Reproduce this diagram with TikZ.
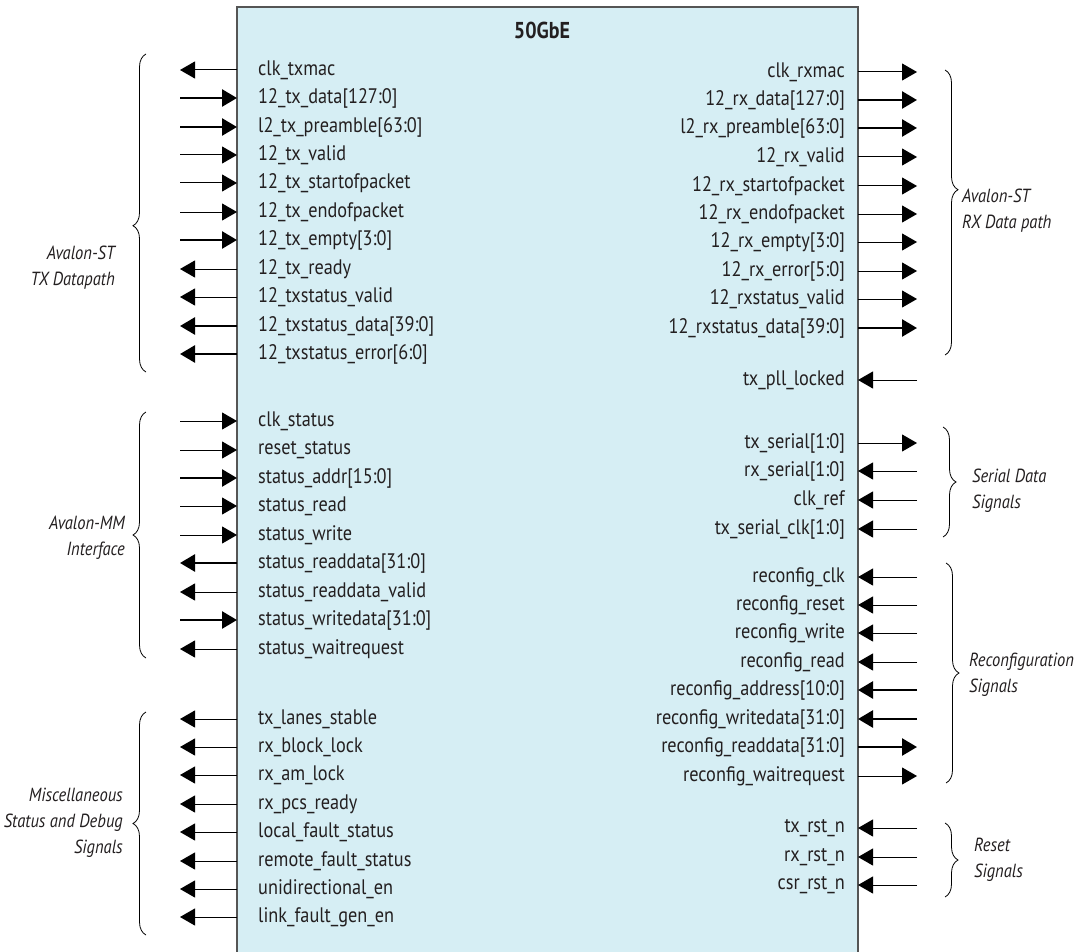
\documentclass[tikz,border=0pt]{standalone}
\usepackage{fontspec}
\setmainfont{PT Sans}[FakeStretch=0.87]
\usetikzlibrary{arrows.meta,decorations.pathreplacing}
\definecolor{boxfill}{HTML}{D6EEF4}
\definecolor{boxline}{HTML}{555555}
\definecolor{txt}{HTML}{231F20}
\tikzset{
  x=1pt,y=-1pt,
  sig/.style={font=\fontsize{21}{22}\selectfont, text=txt, inner sep=0pt},
  sigL/.style={sig, anchor=west},
  sigR/.style={sig, anchor=east},
  grp/.style={font=\fontsize{19}{26}\selectfont\itshape, text=txt, inner sep=0pt, align=left},
  grpR/.style={font=\fontsize{19}{26}\selectfont\itshape, text=txt, inner sep=0pt, align=right},
  pin/.style={-{Triangle[length=15pt,width=17pt]}, line width=1pt},
  thin/.style={},
  thick/.style={line width=2.6pt},
  brc/.style={decorate, line width=0.8pt},
}
\begin{document}
\begin{tikzpicture}
\useasboundingbox (0,0) rectangle (1078,952);
\fill[boxfill] (237,7) rectangle (858,960);
\draw[boxline, line width=1.2pt] (237,960) -- (237,7) -- (858,7) -- (858,960);
\node[font=\fontsize{23}{26}\selectfont\bfseries, text=txt] (title) at (542,30) {50GbE};
% left side signals
\foreach \n/\y/\t/\d/\w in {
 a1/70/clk\_txmac/o/thin,
 a2/98/12\_tx\_data[127:0]/i/thick,
 a3/127/l2\_tx\_preamble[63:0]/i/thick,
 a4/155/12\_tx\_valid/i/thin,
 a5/183/12\_tx\_startofpacket/i/thin,
 a6/212/12\_tx\_endofpacket/i/thin,
 a7/240/12\_tx\_empty[3:0]/i/thick,
 a8/269/12\_tx\_ready/o/thin,
 a9/297/12\_txstatus\_valid/o/thin,
 a10/326/12\_txstatus\_data[39:0]/o/thick,
 a11/354/12\_txstatus\_error[6:0]/o/thick,
 b1/421/clk\_status/i/thin,
 b2/450/reset\_status/i/thin,
 b3/478/status\_addr[15:0]/i/thick,
 b4/506/status\_read/i/thin,
 b5/535/status\_write/i/thin,
 b6/563/status\_readdata[31:0]/o/thick,
 b7/592/status\_readdata\_valid/o/thin,
 b8/620/status\_writedata[31:0]/i/thick,
 b9/649/status\_waitrequest/o/thin,
 c1/719/tx\_lanes\_stable/o/thin,
 c2/747/rx\_block\_lock/o/thin,
 c3/775/rx\_am\_lock/o/thin,
 c4/804/rx\_pcs\_ready/o/thin,
 c5/832/local\_fault\_status/o/thin,
 c6/861/remote\_fault\_status/o/thin,
 c7/889/unidirectional\_en/o/thin,
 c8/917/link\_fault\_gen\_en/o/thin}{
  \node[sigL] (\n) at (258,\y) {\t};
  \coordinate (\n e) at (237,\y);
  \coordinate (\n x) at (180,\y);
  \if\d i
    \draw[pin,\w] (\n x) -- (\n e);
  \else
    \draw[pin,\w] (\n e) -- (\n x);
  \fi
}
% right side signals
\foreach \n/\y/\t/\d/\w in {
 r1/72/clk\_rxmac/o/thin,
 r2/100/12\_rx\_data[127:0]/o/thick,
 r3/128/l2\_rx\_preamble[63:0]/o/thick,
 r4/157/12\_rx\_valid/o/thin,
 r5/186/12\_rx\_startofpacket/o/thin,
 r6/214/12\_rx\_endofpacket/o/thin,
 r7/242/12\_rx\_empty[3:0]/o/thin,
 r8/271/12\_rx\_error[5:0]/o/thin,
 r9/299/12\_rxstatus\_valid/o/thin,
 r10/328/12\_rxstatus\_data[39:0]/o/thick,
 p1/380/tx\_pll\_locked/i/thin,
 s1/443/tx\_serial[1:0]/o/thin,
 s2/471/rx\_serial[1:0]/i/thin,
 s3/500/clk\_ref/i/thin,
 s4/529/tx\_serial\_clk[1:0]/i/thin,
 g1/577/reconfig\_clk/i/thin,
 g2/605/reconfig\_reset/i/thin,
 g3/633/reconfig\_write/i/thin,
 g4/662/reconfig\_read/i/thin,
 g5/690/reconfig\_address[10:0]/i/thick,
 g6/719/reconfig\_writedata[31:0]/i/thick,
 g7/747/reconfig\_readdata[31:0]/o/thick,
 g8/776/reconfig\_waitrequest/o/thin,
 t1/828/tx\_rst\_n/i/thin,
 t2/857/rx\_rst\_n/i/thin,
 t3/885/csr\_rst\_n/i/thin}{
  \node[sigR] (\n) at (845,\y) {\t};
  \coordinate (\n e) at (858,\y);
  \coordinate (\n x) at (917,\y);
  \if\d i
    \draw[pin,\w] (\n x) -- (\n e);
  \else
    \draw[pin,\w] (\n e) -- (\n x);
  \fi
}
% braces left
\draw[brc, decoration={brace, amplitude=13pt, aspect=0.46}] (146,372) -- (146,54);
\draw[brc, decoration={brace, amplitude=13pt, aspect=0.50}] (146,658) -- (146,412);
\draw[brc, decoration={brace, amplitude=13pt, aspect=0.50}] (146,935) -- (146,712);
\node[grpR, anchor=east] (gtx) at (115,268) {Avalon-ST\\TX Datapath};
\node[grpR, anchor=east] (gmm) at (125,538) {Avalon-MM\\Interface};
\node[grpR, anchor=east] (gmisc) at (123,823) {Miscellaneous\\Status and Debug\\Signals};
% braces right
\draw[brc, decoration={brace, amplitude=13pt, aspect=0.42}] (945,70) -- (945,355);
\draw[brc, decoration={brace, amplitude=13pt, aspect=0.50}] (943,427) -- (943,537);
\draw[brc, decoration={brace, amplitude=13pt, aspect=0.50}] (946,563) -- (946,783);
\draw[brc, decoration={brace, amplitude=13pt, aspect=0.50}] (945,823) -- (945,897);
\node[grp, anchor=west] (grx) at (962,211) {Avalon-ST\\RX Data path};
\node[grp, anchor=west] (gser) at (972,491) {Serial Data\\Signals};
\node[grp, anchor=west] (gcfg) at (969,675) {Reconfiguration\\Signals};
\node[grp, anchor=west] (grst) at (974,860) {Reset\\Signals};
\end{tikzpicture}
\end{document}
